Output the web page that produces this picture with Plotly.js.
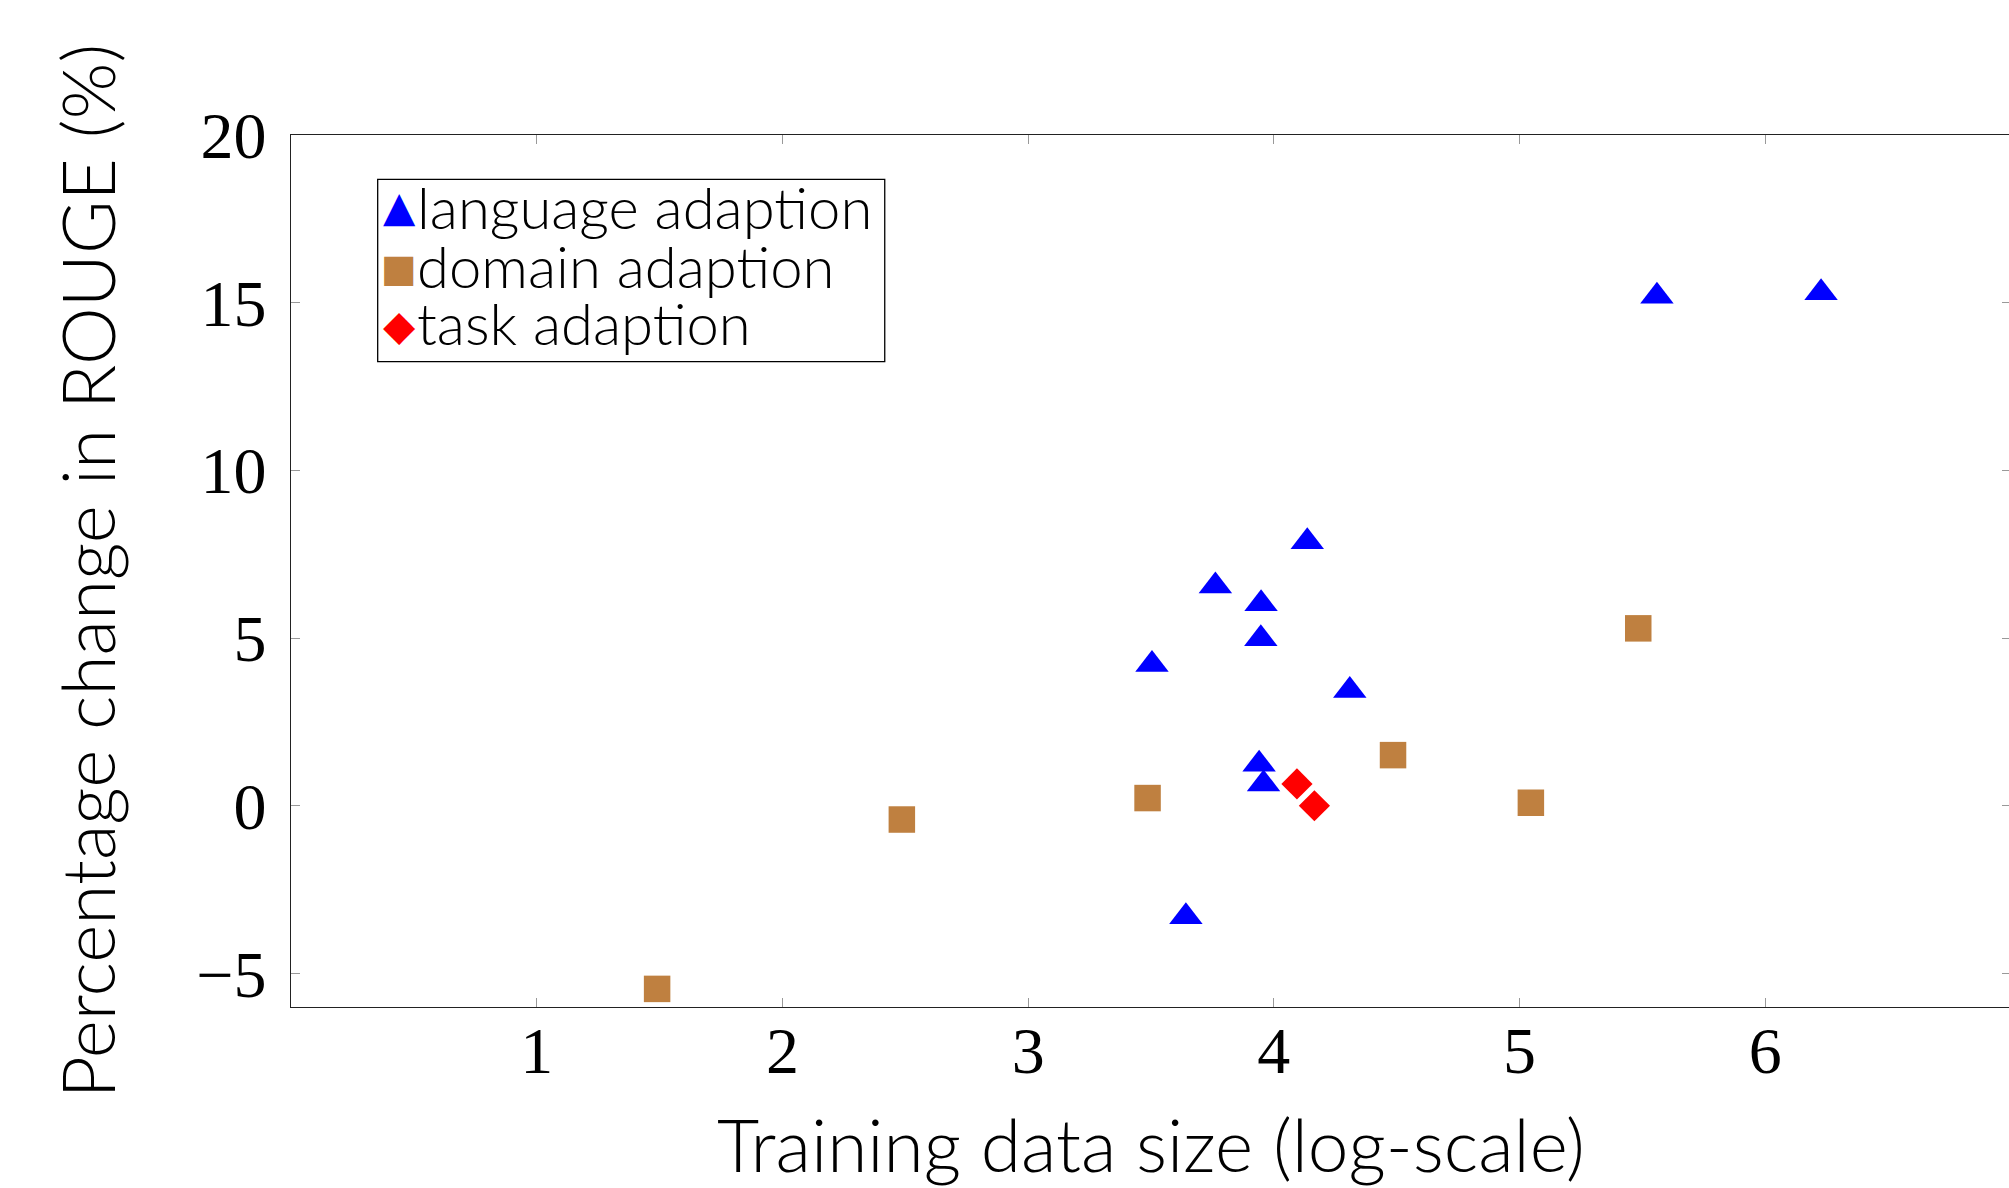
<!DOCTYPE html>
<html>
<head>
<meta charset="utf-8">
<script src="https://cdn.plot.ly/plotly-3.0.1.min.js"></script>
<style>
html, body { margin: 0; padding: 0; overflow: hidden; background: #fff; }
#chart { width: 2015px; height: 1188px; }
</style>
</head>
<body>
<div id="chart"></div>
<script>
// Data
const languageX = [4.136, 3.762, 3.948, 3.947, 3.504, 4.309, 3.940, 3.958, 5.559, 6.227, 3.642];
const languageY = [7.87, 6.55, 6.02, 4.98, 4.21, 3.44, 1.24, 0.65, 15.19, 15.30, -3.31];
const domainX = [1.490, 2.486, 3.486, 4.485, 5.046, 5.483];
const domainY = [-5.46, -0.41, 0.23, 1.51, 0.09, 5.29];
const taskX = [4.094, 4.165];
const taskY = [0.65, 0.0];

const seriesNames = ['language adaption', 'domain adaption', 'task adaption'];
const seriesColors = ['#0000ff', '#bf8040', '#ff0000'];
const seriesGlyphs = ['▲', '■', '◆'];
const xTicks = [1, 2, 3, 4, 5, 6];
const yTicks = [-5, 0, 5, 10, 15, 20];

const traces = [
  {x: languageX, y: languageY, name: seriesNames[0], type: 'scatter', mode: 'markers',
   marker: {symbol: 'triangle-up', size: 29, color: seriesColors[0], line: {width: 0}}},
  {x: domainX, y: domainY, name: seriesNames[1], type: 'scatter', mode: 'markers',
   marker: {symbol: 'square', size: 26.5, color: seriesColors[1], line: {width: 0}}},
  {x: taskX, y: taskY, name: seriesNames[2], type: 'scatter', mode: 'markers',
   marker: {symbol: 'diamond', size: 24, color: seriesColors[2], line: {width: 0}}}
];

// Boxed legend with tight line spacing, as in the original
const legendTextY = [0.9175, 0.8498, 0.7849];
const legendGlyphY = [0.918, 0.847, 0.781];
const glyphSizes = [42, 38, 42];
const annotations = [];
for (let i = 0; i < 3; i++) {
  annotations.push({
    xref: 'paper', yref: 'paper', x: 0.0726, y: legendTextY[i],
    xanchor: 'left', yanchor: 'middle', showarrow: false, borderpad: 0,
    text: seriesNames[i],
    font: {family: 'Lato', size: 58, weight: 300, color: '#000'}
  });
  annotations.push({
    xref: 'paper', yref: 'paper', x: 0.0629, y: legendGlyphY[i],
    xanchor: 'center', yanchor: 'middle', showarrow: false, borderpad: 0,
    text: seriesGlyphs[i],
    font: {family: 'DejaVu Sans', size: glyphSizes[i], color: seriesColors[i]}
  });
}

const axisCommon = {
  showgrid: false, zeroline: false, showline: true, linecolor: '#222', linewidth: 1.2,
  mirror: 'ticks', ticks: 'inside', ticklen: 9, tickwidth: 1, tickcolor: '#999',
  tickfont: {family: 'Liberation Serif', size: 66, color: '#000'},
  tickmode: 'array'
};

const layout = {
  width: 2015, height: 1188,
  margin: {l: 291, r: 4, t: 135, b: 181},
  paper_bgcolor: '#fff', plot_bgcolor: '#fff',
  showlegend: false,
  xaxis: Object.assign({}, axisCommon, {
    range: [0, 7], tickvals: xTicks, ticktext: xTicks.map(String),
    ticklabelstandoff: -14,
    title: {text: 'Training data size (log-scale)', standoff: 65,
            font: {family: 'Lato', size: 73, weight: 300, color: '#000'}}
  }),
  yaxis: Object.assign({}, axisCommon, {
    range: [-6, 20], tickvals: yTicks,
    ticklabelstandoff: 10,
    title: {text: 'Percentage change in ROUGE (%)', standoff: 56,
            font: {family: 'Lato', size: 73, weight: 300, color: '#000'}}
  }),
  shapes: [{
    type: 'rect', xref: 'paper', yref: 'paper',
    x0: 0.0504, x1: 0.3452, y0: 0.740, y1: 0.949,
    line: {color: '#000', width: 1.3}, fillcolor: 'rgba(255,255,255,1)', layer: 'below'
  }],
  annotations: annotations
};

Plotly.newPlot('chart', traces, layout, {displayModeBar: false, staticPlot: true});
</script>
</body>
</html>
